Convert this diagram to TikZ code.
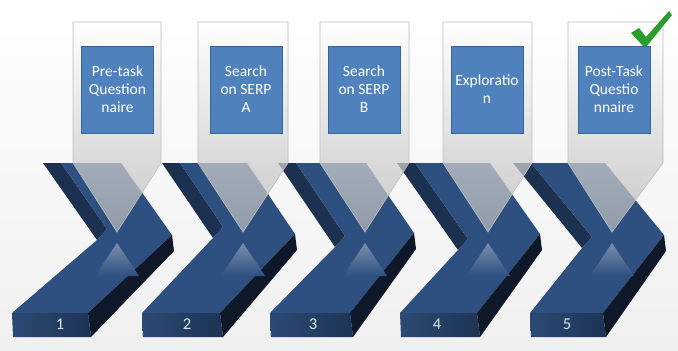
\documentclass[tikz,border=0pt]{standalone}
\usepackage{fontspec}
\setmainfont{Carlito}
\definecolor{topface}{HTML}{2E5080}
\definecolor{stripface}{HTML}{1C3050}
\definecolor{frontleft}{HTML}{2B4A74}
\definecolor{frontright}{HTML}{1D3455}
\definecolor{sideface}{HTML}{0E1828}
\definecolor{glow}{HTML}{7C8EAC}
\definecolor{boxblue}{HTML}{4F81BD}
\definecolor{boxline}{HTML}{3A659A}
\definecolor{numgray}{HTML}{DDE3EB}
\definecolor{tickgreen}{HTML}{2A9D2E}

\begin{document}
\begin{tikzpicture}[x=1pt,y=-1pt,
callout/.style = {draw=black!25,line width=0.6pt,top color=white,bottom color=black!28,fill opacity=0.73},
stepbox/.style = {draw=boxline,line width=1pt,fill=boxblue,text=white,minimum width=72pt,minimum height=87pt,
  inner sep=2pt,align=center,font=\fontsize{15.5}{18}\selectfont},
stepnum/.style = {text=numgray,inner sep=0pt,font=\fontsize{16.5}{16.5}\selectfont}]

\useasboundingbox (0,0) rectangle (678,351);
\shade[top color=white,bottom color=black!6] (0,0) rectangle (678,351);

% the five chevrons
\foreach \i/\ax/\bx/\cx/\cy/\dx/\ex/\fx/\fy/\px/\nx in {
  1/43/121/172/235/88/12/97/240/117/60,
  2/162/247/295/234/220/142/213/238/243/187,
  3/278/366/414/233/350/270/335/247/365/313,
  4/397/490/540/234/477/400/458/250/488/437,
  5/513/605/664/235/603/530/582/248/612/567}{
  \fill[stripface] (\ax,163) -- ({\ax+18},163) -- ({\fx+10},{\fy-11}) -- (\fx,\fy) -- cycle;
  \fill[topface] ({\ax+18},163) -- (\bx,163) -- (\cx,\cy) -- (\dx,313) -- (\ex,313)
    -- (\fx,\fy) -- ({\fx+10},{\fy-11}) -- cycle;
  \shade[left color=frontleft,right color=frontright] (\ex,313) -- (\dx,313) -- ({\dx+3},337) -- ({\ex+1},337) -- cycle;
  \fill[sideface] (\dx,313) -- (\cx,\cy) -- ({\cx+2},{\cy+16}) -- ({\dx+3},337) -- cycle;
  \shade[top color=glow,bottom color=topface] (\px,243) -- ({\px+22},276) -- ({\px-22},276) -- cycle;
  \node[stepnum] (num\i) at (\nx,324) {\i};
}

% callouts with the step boxes
\foreach \i/\lx/\rx/\px/\bx/\txt in {
  1/73/161/117/117.5/{Pre-task\\Question\\naire},
  2/198/288/243/246/{Search\\on SERP\\A},
  3/320/409/365/364/{Search\\on SERP\\B},
  4/443/532/488/487/{Exploratio\\n},
  5/568/663/612/614/{Post-Task\\Questio\\nnaire}}{
  \draw[callout] (\lx,22) -- (\rx,22) -- (\rx,163) -- (\px,232) -- (\lx,163) -- cycle;
  \node[stepbox] (box\i) at (\bx,89.5) {\txt};
}

% tick on the last step
\fill[tickgreen] (631,33) -- (639,28) -- (646,37) -- (669,11) -- (672,15) -- (647,46) -- (643,46) -- cycle;
\end{tikzpicture}
\end{document}
